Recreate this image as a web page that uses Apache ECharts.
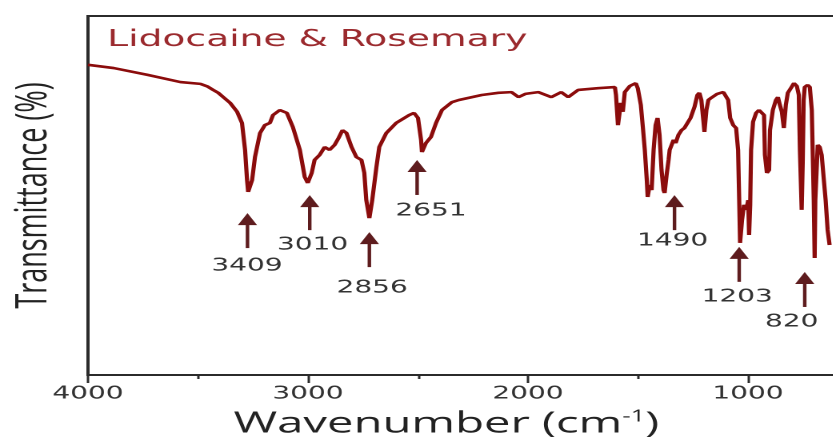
<!DOCTYPE html>
<html>
<head>
<meta charset="utf-8">
<script src="https://cdn.jsdelivr.net/npm/echarts@6/dist/echarts.min.js"></script>
<style>
html,body{margin:0;padding:0;background:#fff;overflow:hidden;width:833px;height:444px;}
#wrap{width:833px;height:444px;overflow:hidden;position:relative;}
#chart{width:608px;height:444px;transform:scaleX(1.6);transform-origin:0 0;}
</style>
</head>
<body>
<div id="wrap"><div id="chart"></div></div>
<script>
// FTIR spectrum (wavenumber in cm-1, transmittance in arbitrary %)
const wavenumber = [4000,3883,3729,3580,3489,3458,3431,3408,3385,3354,3322,3300,3286,3277,3272,3254,3241,3218,3196,3173,3159,3128,3096,3069,3037,3015,3001,2983,2970,2947,2924,2902,2879,2861,2843,2825,2802,2780,2757,2744,2735,2721,2708,2689,2676,2644,2599,2540,2518,2500,2486,2482,2464,2441,2418,2391,2346,2314,2210,2134,2075,2043,2012,1953,1894,1849,1817,1772,1682,1605,1600,1591,1582,1578,1569,1560,1537,1510,1501,1487,1478,1469,1460,1456,1447,1438,1429,1420,1411,1402,1393,1384,1379,1370,1361,1356,1347,1338,1329,1316,1302,1289,1275,1261,1243,1230,1221,1212,1203,1198,1189,1180,1167,1153,1140,1126,1112,1099,1090,1081,1067,1054,1045,1040,1036,1027,1018,1008,999,995,990,986,977,963,950,936,927,923,914,904,900,887,873,864,855,846,837,828,819,805,791,778,769,764,756,751,747,742,729,719,710,701,697,694,683,674,665,656,647,638,629];
const transmittance = [86.4,85.5,83.6,81.6,81.1,80.4,79.4,78.6,77.4,75.8,73.3,70.2,62.7,54.3,51.0,54.3,60.7,67.4,69.6,70.2,72.4,73.8,73.0,69.1,62.7,55.2,53.5,56.3,59.9,61.3,63.5,62.7,64.1,66.0,68.2,67.4,63.5,60.7,59.9,56.3,48.7,43.7,48.7,57.9,63.5,67.4,70.2,72.4,73.0,71.6,65.5,62.1,64.6,66.3,70.2,73.8,76.0,76.6,78.0,78.6,78.8,77.4,78.3,78.8,77.4,78.8,77.4,79.4,79.9,80.2,78.0,69.6,73.8,75.8,73.3,78.8,80.5,81.3,79.9,75.2,69.1,62.7,54.3,49.6,52.9,51.5,62.7,69.6,71.6,66.9,57.1,51.5,50.7,55.7,59.9,62.7,63.2,65.5,64.6,66.9,68.2,68.8,69.1,71.6,74.7,78.0,78.6,76.6,71.0,67.7,73.8,76.6,77.2,77.4,78.3,78.0,78.8,78.6,76.6,71.6,69.6,68.8,62.7,48.7,36.8,43.2,47.4,46.0,48.7,39.0,47.4,62.7,70.5,73.0,73.8,73.3,72.4,61.3,56.3,57.1,68.2,73.8,76.6,77.4,75.2,73.3,68.8,75.2,78.6,79.9,81.3,80.5,78.0,62.7,46.0,59.9,76.6,80.2,80.8,80.2,73.8,48.7,32.6,48.7,64.1,63.5,61.3,54.9,48.7,40.4,36.2];

// Peak annotations
const peakLabels = ['3409','3010','2856','2651','1490','1203','820'];
const arrowWn   = [3275, 2992, 2721, 2504, 1334, 1040, 742];
const arrowTipT = [45.1, 50.1, 39.8, 59.9, 50.1, 35.7, 28.7];
const labelWn   = [3277, 2979, 2708, 2441, 1343, 1049, 801];
const labelT    = [30.4, 36.2, 24.2, 45.7, 37.3, 21.7, 14.8];

// Axis ticks
const xTicks = [4000, 3000, 2000, 1000];

const LINE = '#8b0c0c', ARROW = '#5e1c1e', TXT = '#333333';
const chart = echarts.init(document.getElementById('chart'), null, {devicePixelRatio: 2});

const spectrum = wavenumber.map((w, i) => [w, transmittance[i]]);
const peaks = arrowWn.map((w, i) => [w, arrowTipT[i], labelWn[i], labelT[i]]);

chart.setOption({
  animation: false,
  title: {
    text: 'Lidocaine & Rosemary', left: 62, top: 23,
    textStyle: {fontFamily: 'DejaVu Sans', fontSize: 23.5, fontWeight: 'normal', color: '#9b2a2e'}
  },
  grid: {left: 54.4, right: 0, top: 16, bottom: 69, show: true, borderColor: '#2b2b2b', borderWidth: 2},
  xAxis: {
    type: 'value', min: 0, max: 4000, interval: 1000, inverse: true,
    axisLine: {show: true, onZero: false, lineStyle: {color: '#2b2b2b', width: 2}},
    axisTick: {show: true, length: 8, lineStyle: {color: '#2b2b2b', width: 1.5}},
    minorTick: {show: true, splitNumber: 2, length: 4, lineStyle: {color: '#2b2b2b', width: 1.5}},
    splitLine: {show: false},
    axisLabel: {
      margin: 10, color: TXT, fontFamily: 'DejaVu Sans', fontSize: 17.5,
      formatter: v => xTicks.includes(v) ? String(v) : ''
    }
  },
  yAxis: {
    type: 'value', min: 0, max: 100,
    name: 'Transmittance (%)', nameLocation: 'middle', nameRotate: 90, nameGap: 20,
    nameTextStyle: {fontFamily: 'Open Sans', fontSize: 27, color: '#222'},
    axisLine: {show: false}, axisTick: {show: false}, axisLabel: {show: false}, splitLine: {show: false}
  },
  graphic: [{
    type: 'text', x: 279, y: 424,
    style: {
      text: '{a|Wavenumber (cm}{s|-1}{a|)}', align: 'center', verticalAlign: 'middle',
      rich: {
        a: {fontFamily: 'Open Sans', fontSize: 29.5, fill: '#222'},
        s: {fontFamily: 'Open Sans', fontSize: 16, fill: '#222', verticalAlign: 'top'}
      }
    }
  }],
  series: [
    {
      type: 'line', data: spectrum, showSymbol: false, symbol: 'none',
      lineStyle: {color: LINE, width: 2.6}, clip: true
    },
    {
      type: 'custom', data: peaks, clip: false,
      encode: {x: 0, y: 1},
      renderItem: function (params, api) {
        const tip = api.coord([api.value(0), api.value(1)]);
        const lab = api.coord([api.value(2), api.value(3)]);
        const len = 35, headH = 12, headW = 6;
        return {
          type: 'group',
          children: [
            {type: 'line', shape: {x1: tip[0], y1: tip[1] + headH - 1, x2: tip[0], y2: tip[1] + len},
             style: {stroke: ARROW, lineWidth: 2.2}},
            {type: 'polygon', shape: {points: [[tip[0], tip[1]], [tip[0] - headW, tip[1] + headH], [tip[0] + headW, tip[1] + headH]]},
             style: {fill: ARROW}},
            {type: 'text', x: lab[0], y: lab[1],
             style: {text: peakLabels[params.dataIndex], align: 'center', verticalAlign: 'middle',
                     fontFamily: 'DejaVu Sans', fontSize: 17.5, fill: TXT}}
          ]
        };
      }
    }
  ]
});
</script>
</body>
</html>
